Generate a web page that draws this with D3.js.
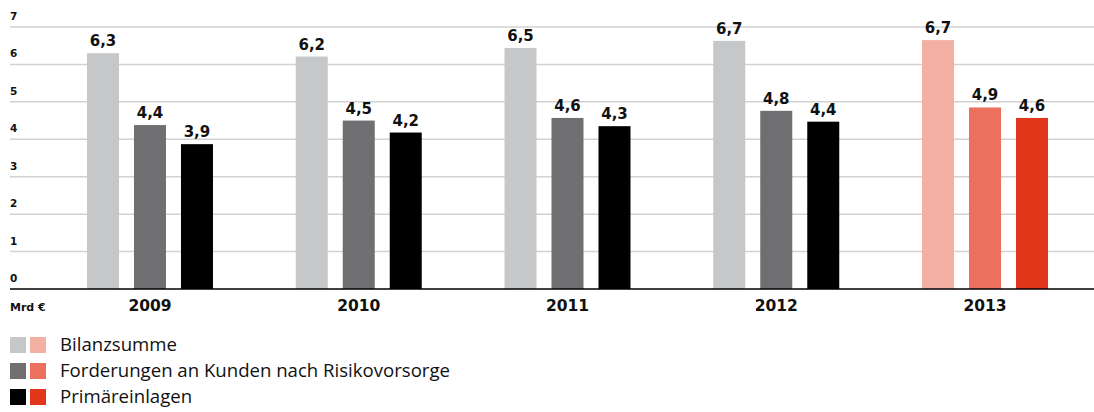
<!DOCTYPE html>
<html>
<head>
<meta charset="utf-8">
<script src="https://cdnjs.cloudflare.com/ajax/libs/d3/7.8.5/d3.min.js"></script>
<style>
  body { margin: 0; background: #fff; }
  svg { display: block; }
</style>
</head>
<body>
<div id="chart"></div>
<script>
// data
var years = ["2009", "2010", "2011", "2012", "2013"];
var series = ["Bilanzsumme", "Forderungen an Kunden nach Risikovorsorge", "Primäreinlagen"];
var bilanzsumme = [6.3, 6.21, 6.44, 6.63, 6.65];
var forderungen = [4.38, 4.5, 4.57, 4.76, 4.85];
var primaer = [3.87, 4.18, 4.35, 4.47, 4.57];
var bilanzLabels = ["6,3", "6,2", "6,5", "6,7", "6,7"];
var forderungenLabels = ["4,4", "4,5", "4,6", "4,8", "4,9"];
var primaerLabels = ["3,9", "4,2", "4,3", "4,4", "4,6"];
var yTicks = [0, 1, 2, 3, 4, 5, 6, 7];
var unitLabel = "Mrd €";
var highlightYear = "2013";

var greyColors = ["#c6c7c9", "#6f6f71", "#000000"];
var redColors = ["#f4afa3", "#ec705e", "#e2361a"];

var W = 1094, H = 412;
var bold = "'DejaVu Sans', sans-serif";

var svg = d3.select("#chart").append("svg")
    .attr("width", W)
    .attr("height", H);

var y = d3.scaleLinear().domain([0, 7]).range([289, 27]);
var x = d3.scaleBand().domain(years).range([45.6, 1089.4]).padding(0);
var xi = d3.scaleBand().domain(series).range([-63, 63]).paddingInner(15 / 47).paddingOuter(0);

// gridlines
svg.append("g")
  .selectAll("line")
  .data(yTicks.filter(function(t) { return t > 0; }))
  .enter().append("line")
    .attr("x1", 10).attr("x2", W)
    .attr("y1", function(d) { return y(d); })
    .attr("y2", function(d) { return y(d); })
    .attr("stroke", "#d2d2d2")
    .attr("stroke-width", 1.5);

// y tick labels
svg.append("g")
  .selectAll("text")
  .data(yTicks)
  .enter().append("text")
    .attr("x", 10)
    .attr("y", function(d) { return y(d) - 7; })
    .style("font-family", bold)
    .style("font-weight", "bold")
    .style("font-size", "10.5px")
    .attr("fill", "#111")
    .text(function(d) { return d; });

// bars
var rows = years.map(function(yr, i) {
  return {
    year: yr,
    vals: [
      {key: series[0], v: bilanzsumme[i], label: bilanzLabels[i], k: 0},
      {key: series[1], v: forderungen[i], label: forderungenLabels[i], k: 1},
      {key: series[2], v: primaer[i], label: primaerLabels[i], k: 2}
    ]
  };
});

var groups = svg.append("g").selectAll("g")
  .data(rows)
  .enter().append("g")
    .attr("transform", function(d) { return "translate(" + (x(d.year) + x.bandwidth() / 2) + ",0)"; });

groups.selectAll("rect")
  .data(function(d) { return d.vals.map(function(v) { v.year = d.year; return v; }); })
  .enter().append("rect")
    .attr("x", function(d) { return xi(d.key); })
    .attr("width", xi.bandwidth())
    .attr("y", function(d) { return y(d.v); })
    .attr("height", function(d) { return y(0) - y(d.v); })
    .attr("fill", function(d) { return d.year === highlightYear ? redColors[d.k] : greyColors[d.k]; });

groups.selectAll("text.val")
  .data(function(d) { return d.vals; })
  .enter().append("text")
    .attr("class", "val")
    .attr("x", function(d) { return xi(d.key) + xi.bandwidth() / 2; })
    .attr("y", function(d) { return y(d.v) - 7; })
    .attr("text-anchor", "middle")
    .style("font-family", bold)
    .style("font-weight", "bold")
    .style("font-size", "15px")
    .attr("fill", "#111")
    .text(function(d) { return d.label; });

// year labels
groups.append("text")
    .attr("y", 311)
    .attr("text-anchor", "middle")
    .style("font-family", bold)
    .style("font-weight", "bold")
    .style("font-size", "15.5px")
    .attr("fill", "#111")
    .text(function(d) { return d.year; });

// axis line
svg.append("line")
    .attr("x1", 10).attr("x2", W)
    .attr("y1", y(0)).attr("y2", y(0))
    .attr("stroke", "#000")
    .attr("stroke-width", 1.5);

svg.append("text")
    .attr("x", 10).attr("y", 311)
    .style("font-family", bold)
    .style("font-weight", "bold")
    .style("font-size", "11px")
    .attr("fill", "#111")
    .text(unitLabel);

// legend
var legend = svg.append("g").selectAll("g")
  .data(series)
  .enter().append("g")
    .attr("transform", function(d, i) { return "translate(0," + (337 + i * 26) + ")"; });

legend.append("rect")
    .attr("x", 10).attr("width", 16).attr("height", 16)
    .attr("fill", function(d, i) { return greyColors[i]; });
legend.append("rect")
    .attr("x", 30).attr("width", 16).attr("height", 16)
    .attr("fill", function(d, i) { return redColors[i]; });
legend.append("text")
    .attr("x", 60).attr("y", 14)
    .style("font-family", "'Open Sans', sans-serif")
    .style("font-size", "18.6px")
    .attr("fill", "#111")
    .text(function(d) { return d; });
</script>
</body>
</html>
